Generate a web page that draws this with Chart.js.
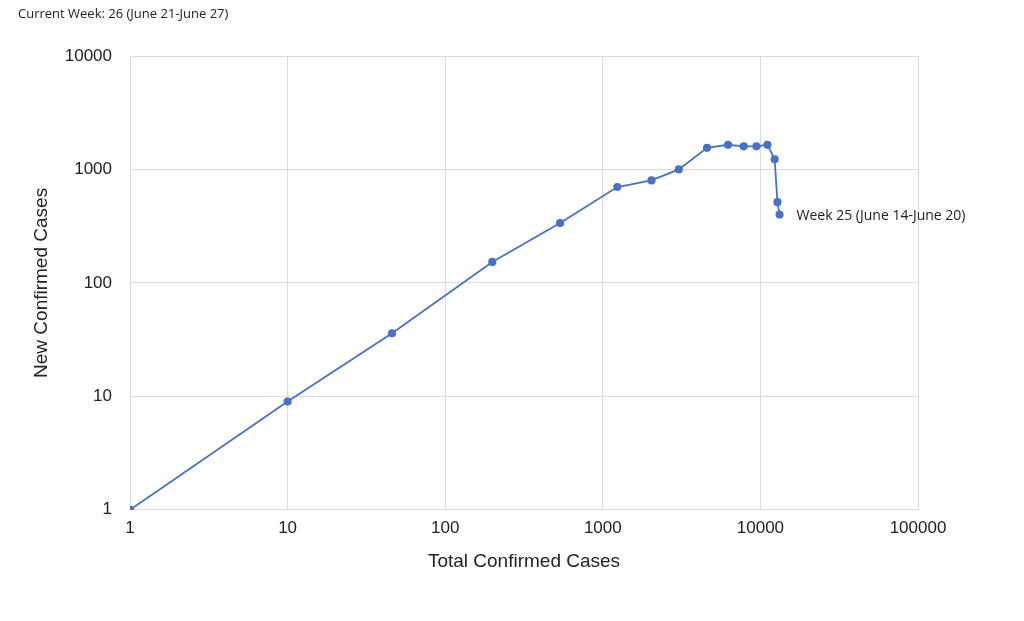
<!DOCTYPE html>
<html><head><meta charset="utf-8">
<script src="https://cdn.jsdelivr.net/npm/chart.js@4"></script>
<style>html,body{margin:0;padding:0;background:#fff}#w{position:relative;width:1024px;height:621px}</style>
</head><body><div id="w"><canvas id="c" width="1024" height="621"></canvas></div>
<script>
const totalCases = [1, 10, 46, 199, 536, 1236, 2036, 3036, 4586, 6236, 7836, 9436, 11086, 12316, 12831, 13231];
const newCases   = [1, 9, 36, 153, 337, 700, 800, 1000, 1550, 1650, 1600, 1600, 1650, 1230, 515, 400];
const tickValues = [1, 10, 100, 1000, 10000, 100000];
const titleText = "Current Week: 26 (June 21-June 27)";
const annotationText = "Week 25 (June 14-June 20)";
const color = '#4A72C0';
const decor = {
  id:'decor',
  afterDraw(ch){
    const c=ch.ctx; c.save();
    c.fillStyle='#222'; c.font='13px "Open Sans"'; c.textBaseline='top';
    c.fillText(titleText,18,8);
    const n=totalCases.length-1;
    const x=ch.scales.x.getPixelForValue(totalCases[n]), y=ch.scales.y.getPixelForValue(newCases[n]);
    c.font='14px "Open Sans"'; c.textBaseline='middle'; c.fillStyle='#222';
    c.fillText(annotationText,x+17,y+1);
    c.restore();
  }
};
new Chart(document.getElementById('c'),{
  type:'scatter',
  data:{datasets:[{data:totalCases.map((v,i)=>({x:v,y:newCases[i]})),showLine:true,borderColor:color,backgroundColor:color,borderWidth:1.8,pointRadius:3.2,pointHoverRadius:3.2,tension:0}]},
  options:{responsive:false,animation:false,
    layout:{padding:{left:26,right:106,top:56,bottom:44}},
    plugins:{legend:{display:false},tooltip:{enabled:false}},
    scales:{
      x:{type:'logarithmic',min:1,max:100000,
        afterBuildTicks(a){a.ticks=tickValues.map(v=>({value:v}));},
        ticks:{callback:v=>String(v),font:{family:'Liberation Sans',size:17},color:'#222',maxRotation:0,padding:8},
        grid:{color:'#dcdcdc',drawTicks:false},border:{display:false},
        title:{display:true,text:'Total Confirmed Cases',font:{family:'Liberation Sans',size:19},color:'#222',padding:{top:4}}},
      y:{type:'logarithmic',min:1,max:10000,
        afterBuildTicks(a){a.ticks=tickValues.slice(0,5).map(v=>({value:v}));},
        ticks:{callback:v=>String(v),font:{family:'Liberation Sans',size:17},color:'#222',padding:18},
        grid:{color:'#dcdcdc',drawTicks:false},border:{display:false},
        afterFit(a){a.width=104;},
        title:{display:true,text:'New Confirmed Cases',font:{family:'Liberation Sans',size:19},color:'#222',padding:{bottom:4}}}
    }},
  plugins:[decor]
});
</script></body></html>
